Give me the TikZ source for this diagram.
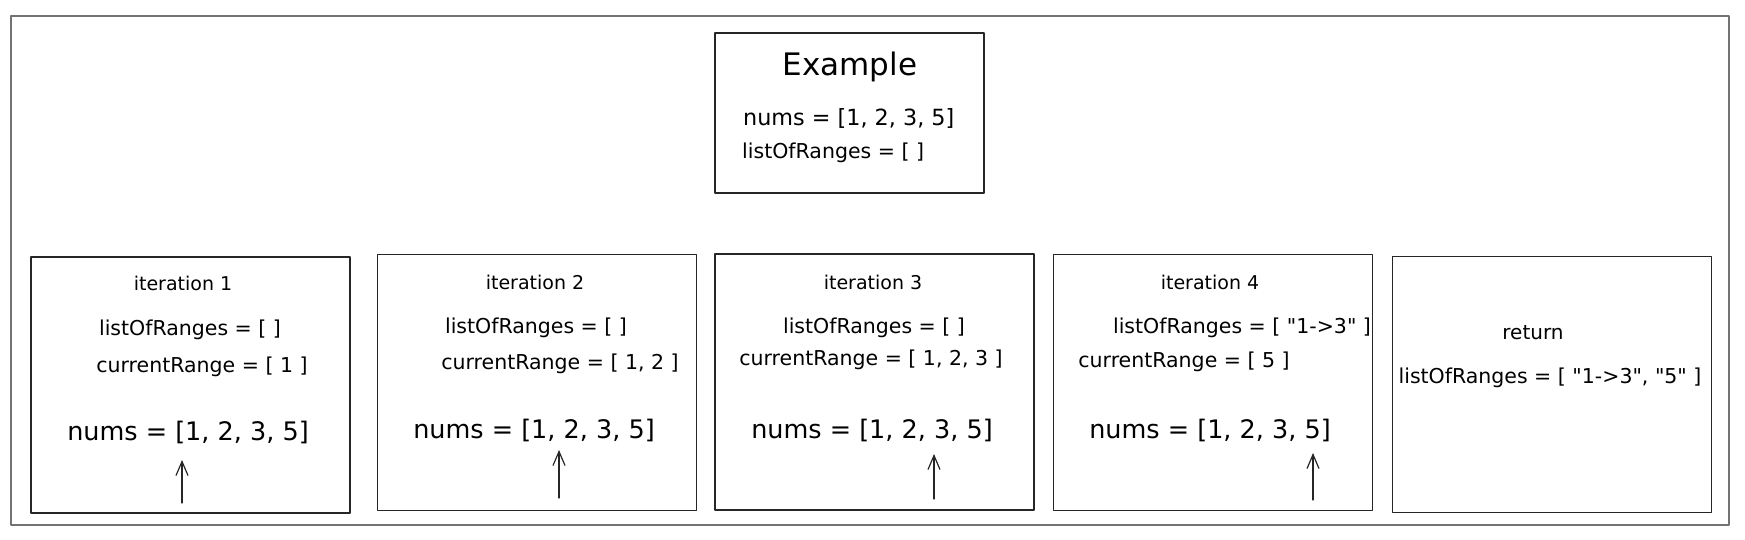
\documentclass[tikz,border=0pt]{standalone}
\usepackage{fontspec}
\setmainfont{DejaVu Sans}
\usetikzlibrary{arrows.meta}
\newcommand{\qq}[1]{\textquotedbl#1\textquotedbl}
\begin{document}
\begin{tikzpicture}[x=1pt,y=-1pt,line join=round,line cap=round,>={Straight Barb[length=14pt,width=12pt]},
 frame/.style={draw=black!55,line width=2pt},
 itbox/.style={draw=black!85,line width=1.3pt,minimum width=319pt,minimum height=256pt,inner sep=0pt},
 title/.style={font=\fontsize{31}{36}\selectfont,inner sep=0pt},
 label/.style={font=\fontsize{19}{22}\selectfont,inner sep=0pt},
 small/.style={font=\fontsize{20.5}{24}\selectfont,inner sep=0pt},
 big/.style={font=\fontsize{25.5}{30}\selectfont,inner sep=0pt}]
 \useasboundingbox (0,0) rectangle (1745,540);
 \draw[frame] (11,16) rectangle (1729,525);
 % example box
 \node[itbox,minimum width=269pt,minimum height=160pt] (ex) at (849.5,113) {};
 \node[title] (extitle) at (850,67) {Example};
 \node[small,anchor=west,font=\fontsize{22.3}{26}\selectfont] (exnums) at (743,118) {nums = [1, 2, 3, 5]};
 \node[small,anchor=west] (exlist) at (742,153) {listOfRanges = [ ]};
 % iteration boxes
 \foreach \n/\cx/\cy in {1/190.5/385, 2/537/382.5, 3/874.5/382, 4/1213/382.5, 5/1552/384.5}
 \node[itbox] (box\n) at (\cx,\cy) {};
 % iteration 1
 \node[label] (it1) at (183,283) {iteration 1};
 \node[small] (list1) at (190,330) {listOfRanges = [ ]};
 \node[small] (cur1) at (202,367) {currentRange = [ 1 ]};
 \node[big] (nums1) at (188,432) {nums = [1, 2, 3, 5]};
 % iteration 2
 \node[label] (it2) at (535,282) {iteration 2};
 \node[small] (list2) at (536,328) {listOfRanges = [ ]};
 \node[small] (cur2) at (560,364) {currentRange = [ 1, 2 ]};
 \node[big] (nums2) at (534,430) {nums = [1, 2, 3, 5]};
 % iteration 3
 \node[label] (it3) at (873,282) {iteration 3};
 \node[small] (list3) at (874,328) {listOfRanges = [ ]};
 \node[small] (cur3) at (871,360) {currentRange = [ 1, 2, 3 ]};
 \node[big] (nums3) at (872,430) {nums = [1, 2, 3, 5]};
 % iteration 4
 \node[label] (it4) at (1210,282) {iteration 4};
 \node[small] (list4) at (1242,328) {listOfRanges = [ \qq{1->3} ]};
 \node[small] (cur4) at (1184,362) {currentRange = [ 5 ]};
 \node[big] (nums4) at (1210,430) {nums = [1, 2, 3, 5]};
 % return
 \node[label,font=\fontsize{20}{24}\selectfont] (ret) at (1533,333) {return};
 \node[small] (list5) at (1550,378) {listOfRanges = [ \qq{1->3}, \qq{5} ]};
 % pointers
 \foreach \n/\x/\a/\b in {1/182/503/460, 2/559/498/450, 3/934/499/454, 4/1313/500/453}
 {
 \coordinate (tail\n) at (\x,\a);
 \coordinate (tip\n) at (\x,\b);
 \draw[->,line width=1.2pt,black!85] (tail\n)--(tip\n);
 }
\end{tikzpicture}
\end{document}
